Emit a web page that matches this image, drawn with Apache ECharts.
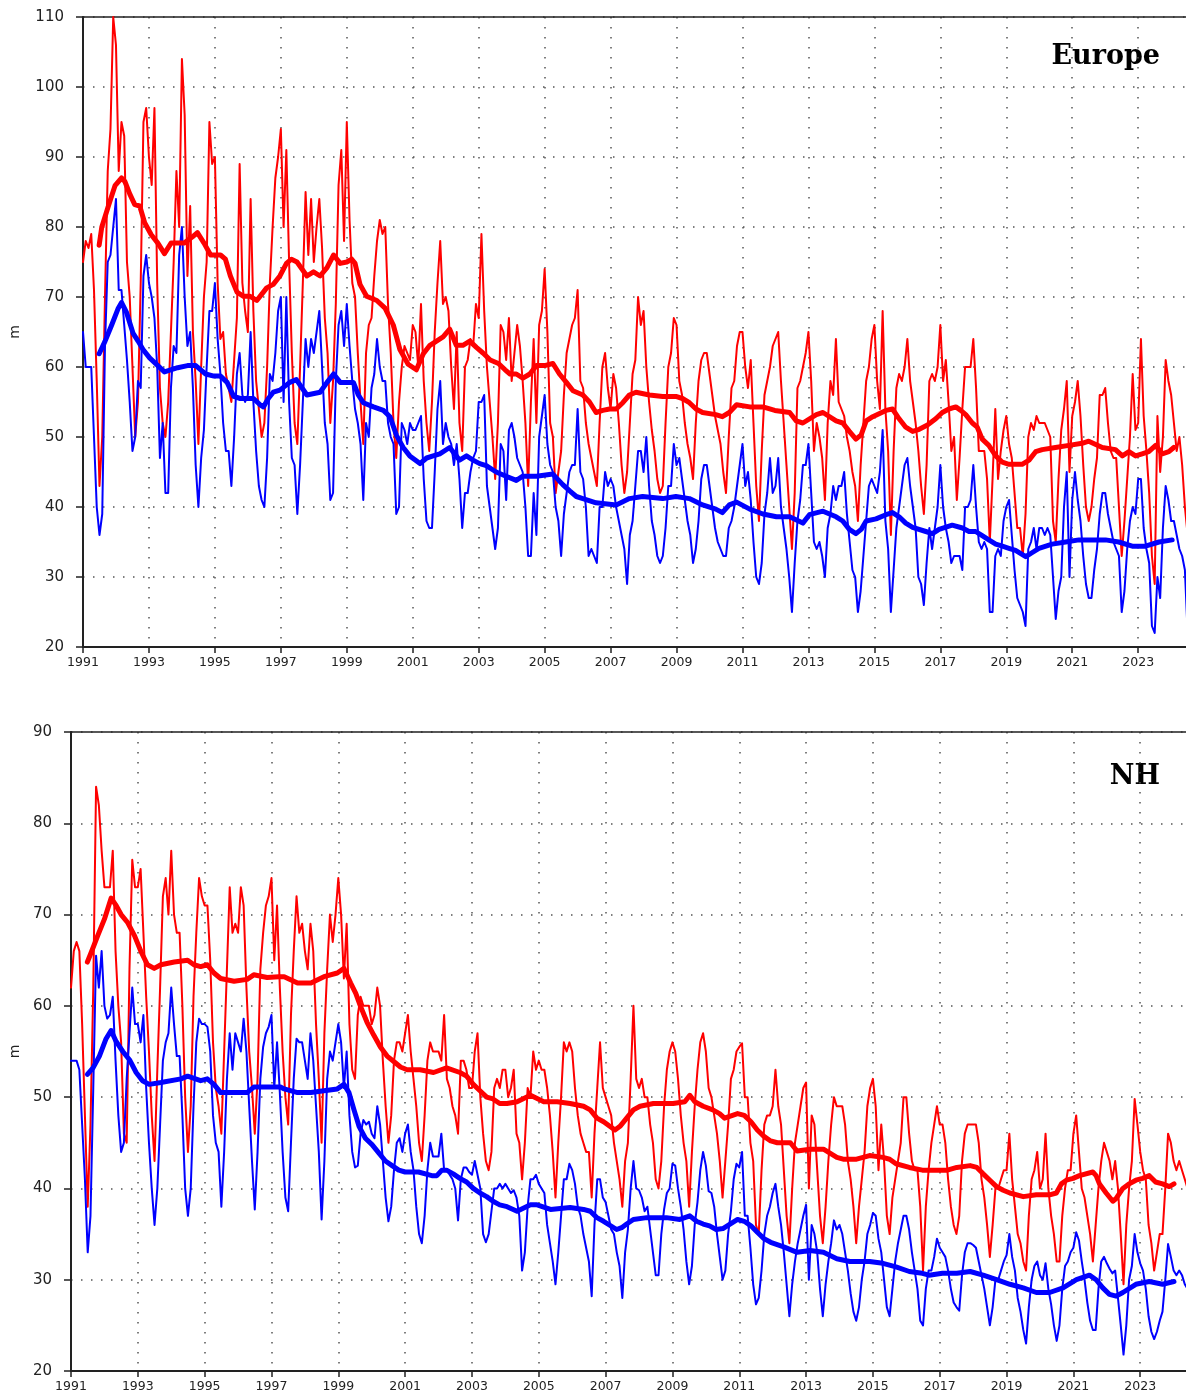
<!DOCTYPE html>
<html>
<head>
<meta charset="utf-8">
<script src="https://cdn.jsdelivr.net/npm/echarts@6/dist/echarts.min.js"></script>
<style>html,body{margin:0;padding:0;background:#fff}#c{width:1186px;height:1394px}</style>
</head>
<body>
<div id="c"></div>
<script>
// ---- Data (monthly values from Jan 1991) ----
const startYear = 1991;
const xTickYears = [1991,1993,1995,1997,1999,2001,2003,2005,2007,2009,2011,2013,2015,2017,2019,2021,2023];
const eurYTicks = [20,30,40,50,60,70,80,90,100,110];
const nhYTicks = [20,30,40,50,60,70,80,90];

const eurRed = [
75,78,77,79,71,58,43,50,70,88,94,110,
106,88,95,93,75,70,60,50,55,72,95,97,
90,86,97,72,57,52,50,55,65,75,88,80,
104,96,73,83,65,58,49,60,70,75,95,89,
90,72,64,65,59,57,55,61,67,89,72,68,
65,84,68,58,54,50,52,60,72,80,87,90,
94,80,91,75,62,52,49,60,72,85,76,84,
75,80,84,77,67,62,52,58,69,86,91,78,
95,81,72,70,62,55,49,62,66,67,73,78,
81,79,80,69,62,52,47,55,60,63,62,61,
66,65,60,69,58,52,48,55,65,72,78,69,
70,68,60,54,65,52,48,60,61,64,63,69,
67,79,68,60,55,50,44,52,66,65,61,67,
58,62,66,63,58,52,43,55,64,52,66,68,
74,65,52,50,42,45,48,56,62,64,66,67,
71,58,57,52,49,47,45,43,52,60,62,57,
54,59,57,52,46,42,45,52,59,61,70,66,
68,60,55,51,48,44,42,43,52,60,62,67,
66,58,56,52,49,47,44,52,58,61,62,62,
59,56,53,51,49,45,42,50,57,58,63,65,
65,60,57,61,52,43,38,48,56,58,60,63,
64,65,58,52,46,40,34,42,57,58,60,62,
65,58,48,52,50,47,41,52,58,56,64,55,
54,53,50,48,45,43,38,46,52,58,60,64,
66,58,54,68,54,48,36,48,57,59,58,60,
64,58,55,52,48,43,39,46,58,59,58,60,
66,58,61,55,48,50,41,47,54,60,60,60,
64,57,48,48,48,44,35,44,54,44,48,51,
53,49,47,42,37,37,33,39,50,52,51,53,
52,52,52,51,50,38,35,44,51,54,58,45,
53,55,58,53,46,40,38,40,44,47,56,56,
57,52,48,47,47,40,33,38,44,50,59,51,
52,64,53,48,42,33,29,53,45,50,61,58,
56,52,48,50,46,40,36
];
const eurBlue = [
65,60,60,60,50,40,36,39,63,75,76,80,
84,71,71,66,61,55,48,50,58,57,73,76,
72,70,67,60,47,52,42,42,57,63,62,76,
80,70,63,65,57,46,40,47,51,60,68,68,
72,64,59,52,48,48,43,50,59,62,56,55,
56,65,55,48,43,41,40,47,59,58,62,68,
70,55,70,55,47,46,39,46,55,64,60,64,
62,65,68,60,52,49,41,42,58,66,68,63,
69,63,58,54,52,49,41,52,50,57,59,64,
60,58,58,52,50,49,39,40,52,51,49,52,
51,51,52,53,44,38,37,37,45,54,58,49,
52,50,49,46,49,44,37,42,42,45,47,48,
55,55,56,43,40,37,34,37,49,48,41,51,
52,50,47,46,45,40,33,33,42,36,50,53,
56,49,46,45,40,38,33,39,42,45,46,46,
54,45,44,40,33,34,33,32,40,40,45,43,
44,43,40,38,36,34,29,36,38,43,48,48,
45,50,43,38,36,33,32,33,37,43,43,49,
46,47,44,41,38,36,32,34,38,44,46,46,
43,40,37,35,34,33,33,37,38,40,43,46,
49,43,45,41,35,30,29,32,39,42,47,42,
43,47,40,37,34,30,25,32,38,41,46,46,
49,42,35,34,35,33,30,37,39,43,41,43,
43,45,39,35,31,30,25,28,33,38,43,44,
43,42,45,51,38,34,25,31,37,40,43,46,
47,43,40,37,30,29,26,32,37,34,37,40,
46,40,37,35,32,33,33,33,31,40,40,41,
46,40,35,34,35,34,25,25,33,34,33,38,
40,41,36,31,27,26,25,23,34,35,37,34,
37,37,36,37,36,30,24,28,30,40,45,30,
41,45,41,38,33,29,27,27,31,34,39,42,
42,39,37,35,34,33,25,28,34,38,40,39,
44,44,37,34,32,23,22,30,27,37,43,41,
38,38,36,34,33,31,22
];
const nhRed = [
62,66,67,66,58,48,38,47,62,84,82,77,
73,73,73,77,66,60,56,46,45,64,76,73,
73,75,68,61,55,48,43,53,62,72,74,70,
77,70,68,68,60,50,44,49,61,68,74,72,
71,71,65,56,51,49,46,55,64,73,68,69,
68,73,71,62,55,51,46,52,64,68,71,72,
74,65,71,62,55,50,47,59,66,72,68,69,
66,64,69,66,58,52,45,57,64,70,67,70,
74,70,63,69,58,53,52,59,61,60,60,60,
58,59,62,60,54,49,45,48,54,56,56,55,
57,59,55,52,49,45,43,48,54,56,55,55,
55,54,59,52,51,49,48,46,54,54,53,51,
51,55,57,50,46,43,42,44,51,52,51,53,
53,50,51,53,46,45,41,45,51,50,55,53,
54,53,53,51,48,44,39,45,50,56,55,56,
55,51,48,46,45,44,44,39,46,51,56,51,
50,49,48,45,43,41,38,43,45,52,60,52,
51,52,50,50,47,45,41,40,43,49,53,55,
56,55,52,48,45,43,38,44,49,53,56,57,
55,51,50,48,46,43,39,43,47,52,53,55,
55.5,55.9,50,50,45,43,36,35,42,47,48,48,
49,53,49,47,42,37,34,40,45,47,49,51,
51.6,40,48,47,42,37,34,38,43,47,50,49,
49,49,47,43,41,38,34,38,41,44,49,51,
52,49,42,47,43,37,35,39,41,43,45,50,
50,46,43,42,42,38,31,38,42,45,47,49,
47,47,45,41,38,36,35,37,43,46,47,47,
47,47,45,41,39,36,32.5,36,40,40,41,42,
42,46,41,38,35,34,32,31,37,41,42,44,
40,41,46,40,37,35,32,32,37,40,42,42,
46,48,44,40,39,37,35,32,36,40,43,45,
44,43,41,43,40,35,29.5,36,40,43,49.8,47,
44,42,41,36,34,31,33,35,35,40,46,45,
43,42,43,42,41,40
];
const nhBlue = [
54,54,54,53,47,41,33,37,51,65.5,62,66,
60,58.6,59,61,54,48,44,45,52,57,62,58,
58,56,59,51,45,40,36,40,47,54,56,57,
62,58,54.5,54.5,48,40,37,40,49,56,58.6,58,
58,57.7,55,48,45,44,38,44,52,57,53,57,
56,55,58.6,55,49,43,37.7,44,52,55.5,57,57.7,
59,51,56,50.5,44,39,37.5,45,52,56.4,56,56,
54,52,57,54,49,44,36.6,43,52,55,54,56,
58,56,51,55,48,44,42.3,42.5,46,47.5,47,47.3,
46,45.5,49,47,43,39,36.4,38,42,45,45.5,44,
46,47,44,42,38,35,34,37,42,45,43.5,43.5,
43.5,46,42,42,41.5,41,40,36.5,41,42.3,42.3,41.8,
41.5,43,41.5,40,35,34.1,35,37.5,40,40,40.5,40,
40.5,40,39.5,39.8,39,37,31,33,38,41,41,41.5,
40.5,40,39.5,36,34,32,29.5,33,37,41,41,42.7,
42,40.5,38,37,35,33.5,32,28.2,36,41,41,39,
38.5,37,35.5,35,33,31.5,28,33,35.5,40,43,40,
39.8,39,37.5,38,35.5,33,30.5,30.5,35,37.7,39.5,40,
42.7,42.5,40,38,35.5,32,29.5,31.5,36,38.5,42,44,
42.5,39.7,39.5,38,35,32.5,30,31,35,37.5,41,42.7,
42.3,44,37,37,33.5,29.5,27.3,28,31,35,37,38,
39.5,40.5,38,36,33,29.5,26,29.5,32,34,35.5,37,
38.2,30,36,35,33,29,26,29.5,32,34,36.5,35.5,
36,35,33,31,28.5,26.5,25.5,27,30,32,35,36,
37.3,37,34.5,33,30,27,26,29,32,34,35.5,37,
37,35.5,33,31,29,25.5,25,29,31,31,32.5,34.5,
33.5,33,32.5,31,29,27.5,27,26.6,30.5,33,34,34,
33.8,33.5,32,30.5,29,27,25,27,30,30,31,32,
32.7,35,32.5,31,28,26.5,24.5,23,27,30,31.5,32,
30.5,30,31.8,29,27.3,25,23.3,25,29,31.5,32,33,
33.5,35.2,34.3,32,30,27.5,25.5,24.5,24.5,29,32,32.5,
31.8,31.2,30.7,31,28,25,21.8,25,30,31.5,35,33,
31.8,31,29,26,24.3,23.5,24.3,25.5,26.5,30,33.9,32.5,
31,30.5,31,30.5,29.5,29
];

// 12-month running means, read as [year, value]
const eurRedMean = [
[1991.49,77.4],[1991.57,80],[1991.77,83],[1991.97,85.9],[1992.17,87],[1992.27,86.5],[1992.42,84.7],[1992.57,83.2],[1992.72,83],[1992.87,80.6],
[1993.07,78.9],[1993.27,77.7],[1993.47,76.2],[1993.67,77.7],[1993.87,77.7],[1994.07,77.7],[1994.32,78.6],[1994.47,79.2],[1994.67,77.7],[1994.87,76],
[1995.17,76],[1995.32,75.4],[1995.47,73],[1995.67,70.7],[1995.87,70.1],[1996.07,70.1],[1996.27,69.5],[1996.47,70.7],[1996.57,71.3],[1996.77,71.8],
[1996.97,73],[1997.17,74.8],[1997.32,75.4],[1997.49,75],[1997.79,73],[1997.99,73.6],[1998.19,73],[1998.4,74.2],[1998.6,76],[1998.8,74.8],
[1999.0,75],[1999.15,75.4],[1999.25,74.8],[1999.4,71.8],[1999.6,70.1],[1999.91,69.5],[2000.16,68.4],[2000.41,66],[2000.61,62.5],[2000.86,60.4],
[2001.11,59.6],[2001.32,61.9],[2001.52,63.1],[2001.72,63.7],[2001.92,64.3],[2002.12,65.4],[2002.32,63.1],[2002.52,63.1],[2002.73,63.7],[2002.93,62.8],
[2003.13,62],[2003.35,61],[2003.6,60.5],[2003.8,59.6],[2003.95,59],[2004.14,59],[2004.34,58.4],[2004.55,59],[2004.75,60.2],[2005.0,60.2],
[2005.25,60.5],[2005.45,59],[2005.66,57.8],[2005.86,56.6],[2006.16,56],[2006.36,55],[2006.56,53.5],[2006.76,53.8],[2006.97,54],[2007.17,54],
[2007.37,54.9],[2007.57,56],[2007.77,56.4],[2008.18,56],[2008.58,55.8],[2008.98,55.8],[2009.18,55.5],[2009.39,54.9],[2009.59,54],[2009.79,53.5],
[2010.19,53.2],[2010.39,52.9],[2010.6,53.5],[2010.82,54.6],[2011.22,54.3],[2011.62,54.3],[2011.98,53.8],[2012.43,53.5],[2012.63,52.3],[2012.83,52],
[2013.24,53.2],[2013.44,53.5],[2013.84,52.3],[2014.04,52],[2014.24,50.8],[2014.44,49.7],[2014.6,50.3],[2014.75,52.3],[2014.95,52.9],[2015.35,53.8],
[2015.55,54],[2015.75,52.6],[2015.95,51.4],[2016.16,50.8],[2016.36,51.1],[2016.61,51.7],[2016.86,52.6],[2017.06,53.5],[2017.26,54],[2017.47,54.3],
[2017.62,53.8],[2017.77,53.2],[2017.97,52],[2018.12,51.4],[2018.27,49.7],[2018.47,48.8],[2018.68,47.3],[2018.88,46.4],[2019.08,46.1],[2019.48,46.1],
[2019.69,46.7],[2019.89,47.9],[2020.09,48.2],[2020.49,48.5],[2020.9,48.8],[2021.3,49.1],[2021.5,49.4],[2021.91,48.5],[2022.31,48.2],[2022.52,47.3],
[2022.72,47.9],[2022.92,47.3],[2023.12,47.6],[2023.32,47.9],[2023.53,48.8],[2023.73,47.6],[2023.93,47.9],[2024.08,48.5]
];
const eurBlueMean = [
[1991.49,61.9],[1991.67,63.7],[1991.87,66],[1992.07,68.4],[1992.17,69.2],[1992.32,67.8],[1992.52,64.8],[1992.67,63.7],[1992.82,62.5],[1993.02,61.3],
[1993.27,60.2],[1993.47,59.3],[1993.87,59.9],[1994.17,60.2],[1994.42,60.2],[1994.57,59.6],[1994.72,59],[1994.97,58.7],[1995.17,58.7],[1995.37,57.8],
[1995.57,55.8],[1995.77,55.5],[1996.17,55.5],[1996.37,54.6],[1996.47,54.3],[1996.62,55.5],[1996.77,56.4],[1996.97,56.7],[1997.27,57.8],[1997.47,58.2],
[1997.79,56],[1998.19,56.4],[1998.4,57.8],[1998.6,59],[1998.8,57.8],[1999.2,57.8],[1999.35,56],[1999.5,54.9],[1999.81,54.3],[2000.11,53.8],
[2000.31,52.9],[2000.51,50.2],[2000.71,48.5],[2000.91,47.3],[2001.22,46.2],[2001.42,47],[2001.62,47.3],[2001.82,47.6],[2002.12,48.5],[2002.42,46.7],
[2002.63,47.3],[2002.83,46.7],[2003.03,46.2],[2003.23,45.9],[2003.53,45],[2003.83,44.4],[2004.14,43.8],[2004.34,44.4],[2004.75,44.4],[2005.25,44.7],
[2005.55,43.2],[2005.76,42.3],[2005.96,41.5],[2006.16,41.2],[2006.56,40.6],[2007.17,40.3],[2007.57,41.2],[2007.97,41.5],[2008.58,41.2],[2008.98,41.5],
[2009.39,41.2],[2009.79,40.3],[2010.19,39.7],[2010.39,39.2],[2010.6,40.3],[2010.82,40.7],[2011.22,39.7],[2011.62,39],[2012.03,38.6],[2012.43,38.6],
[2012.83,37.7],[2013.03,38.9],[2013.44,39.4],[2013.84,38.6],[2014.04,38],[2014.24,36.8],[2014.44,36.2],[2014.6,36.8],[2014.75,38],[2015.05,38.3],
[2015.35,38.9],[2015.55,39.2],[2015.75,38.6],[2015.95,37.7],[2016.16,37.1],[2016.56,36.5],[2016.76,36.2],[2016.96,36.8],[2017.36,37.4],[2017.67,37],
[2017.87,36.5],[2018.07,36.5],[2018.27,35.9],[2018.47,35.3],[2018.68,34.7],[2018.88,34.4],[2019.08,34.1],[2019.28,33.8],[2019.59,32.9],[2019.79,33.5],
[2019.99,34.1],[2020.39,34.7],[2020.8,35],[2021.2,35.3],[2021.61,35.3],[2022.01,35.3],[2022.41,35],[2022.82,34.4],[2023.22,34.4],[2023.63,35],[2024.03,35.3]
];
const nhRedMean = [
[1991.49,64.8],[1991.61,65.9],[1991.8,67.7],[1992.0,69.5],[1992.2,71.8],[1992.35,71],[1992.5,70],[1992.7,69.1],[1992.9,67.7],[1993.1,65.9],
[1993.29,64.5],[1993.49,64.1],[1993.69,64.5],[1994.09,64.8],[1994.49,65],[1994.68,64.5],[1994.88,64.3],[1995.08,64.5],[1995.28,63.6],[1995.48,63],
[1995.88,62.7],[1996.27,62.9],[1996.47,63.4],[1996.87,63.1],[1997.22,63.2],[1997.38,63.2],[1997.78,62.5],[1998.18,62.5],[1998.57,63.2],[1998.97,63.6],
[1999.17,64.1],[1999.37,62.5],[1999.52,61.4],[1999.66,60],[1999.86,58.2],[2000.06,56.8],[2000.26,55.5],[2000.46,54.5],[2000.66,53.9],[2000.86,53.3],
[2001.06,53],[2001.45,53],[2001.85,52.7],[2002.24,53.2],[2002.64,52.7],[2002.84,52.3],[2003.04,51.4],[2003.24,50.7],[2003.44,50],[2003.63,49.8],
[2003.83,49.3],[2004.05,49.3],[2004.35,49.5],[2004.75,50.2],[2005.15,49.5],[2005.55,49.5],[2005.94,49.3],[2006.34,49],[2006.54,48.6],[2006.74,47.7],
[2006.94,47.3],[2007.28,46.4],[2007.43,46.8],[2007.63,47.7],[2007.83,48.6],[2008.03,49],[2008.43,49.3],[2009.02,49.3],[2009.37,49.5],[2009.52,50.2],
[2009.67,49.5],[2009.92,49],[2010.21,48.6],[2010.41,48.2],[2010.56,47.7],[2010.95,48.2],[2011.15,48],[2011.35,47.3],[2011.54,46.4],[2011.74,45.7],
[2011.94,45.2],[2012.14,45],[2012.53,45],[2012.73,44.1],[2013.12,44.3],[2013.52,44.3],[2013.92,43.4],[2014.11,43.2],[2014.51,43.2],[2014.9,43.6],
[2015.3,43.4],[2015.5,43.2],[2015.69,42.7],[2016.09,42.3],[2016.48,42],[2016.88,42],[2017.23,42],[2017.51,42.3],[2017.91,42.5],[2018.11,42.3],
[2018.3,41.6],[2018.5,40.9],[2018.7,40.2],[2018.9,39.8],[2019.1,39.5],[2019.5,39.1],[2019.89,39.3],[2020.29,39.3],[2020.49,39.5],[2020.64,40.5],
[2020.79,40.9],[2020.99,41.1],[2021.18,41.4],[2021.58,41.8],[2021.68,41.4],[2021.78,40.5],[2021.98,39.5],[2022.18,38.6],[2022.28,38.9],[2022.48,40],
[2022.67,40.5],[2022.87,40.9],[2023.07,41.1],[2023.27,41.4],[2023.46,40.7],[2023.67,40.5],[2023.87,40.2],[2024.01,40.5]
];
const nhBlueMean = [
[1991.49,52.5],[1991.66,53.2],[1991.85,54.5],[1992.05,56.4],[1992.2,57.3],[1992.35,56.1],[1992.55,55],[1992.75,54.1],[1992.95,52.7],[1993.14,51.8],
[1993.34,51.4],[1993.69,51.6],[1994.29,52],[1994.49,52.3],[1994.88,51.8],[1995.08,52],[1995.28,51.4],[1995.48,50.5],[1995.88,50.5],[1996.27,50.5],
[1996.47,51.1],[1996.87,51.1],[1997.27,51.1],[1997.38,50.9],[1997.78,50.5],[1998.18,50.5],[1998.57,50.7],[1998.97,50.9],[1999.17,51.4],[1999.32,50.5],
[1999.47,48.6],[1999.62,46.8],[1999.81,45.5],[2000.01,44.8],[2000.21,43.9],[2000.41,43],[2000.61,42.5],[2000.81,42],[2001.0,41.8],[2001.4,41.8],
[2001.8,41.4],[2001.95,41.4],[2002.1,42],[2002.24,42],[2002.44,41.6],[2002.64,41.1],[2002.84,40.7],[2003.04,40],[2003.24,39.5],[2003.44,39.1],
[2003.63,38.6],[2003.83,38.2],[2004.05,38],[2004.35,37.5],[2004.75,38.2],[2004.95,38.2],[2005.35,37.7],[2005.94,37.9],[2006.34,37.7],[2006.54,37.5],
[2006.74,36.8],[2006.94,36.4],[2007.33,35.5],[2007.48,35.7],[2007.63,36.1],[2007.83,36.6],[2008.23,36.8],[2008.82,36.8],[2009.22,36.6],[2009.52,37],
[2009.72,36.4],[2009.92,36.1],[2010.11,35.9],[2010.31,35.5],[2010.51,35.6],[2010.95,36.6],[2011.15,36.4],[2011.35,35.9],[2011.54,35.2],[2011.74,34.5],
[2011.94,34.1],[2012.33,33.6],[2012.73,33],[2013.12,33.2],[2013.52,33],[2013.92,32.3],[2014.31,32],[2014.9,32],[2015.3,31.8],[2015.69,31.4],
[2016.09,30.9],[2016.48,30.7],[2016.68,30.5],[2017.08,30.7],[2017.51,30.7],[2017.91,30.9],[2018.3,30.5],[2018.7,30],[2019.1,29.5],[2019.5,29.1],
[2019.89,28.6],[2020.29,28.6],[2020.69,29.1],[2021.09,30],[2021.48,30.5],[2021.68,30],[2021.88,29.1],[2022.08,28.4],[2022.28,28.2],[2022.48,28.6],
[2022.87,29.5],[2023.27,29.8],[2023.67,29.5],[2024.01,29.8]
];

// ---- Build chart ----
const monthly = arr => arr.map((v, i) => [i / 12, v]);            // offset in years from startYear
const pairs = arr => arr.map(p => [p[0] - startYear, p[1]]);

const AX = '#222';
const FONT = 'DejaVu Sans';
const dotted = { color: '#555', width: 1.5, type: [1.5, 8.5] };

function xAxisFor(gridIndex, maxOff) {
  return [{
    type: 'value', gridIndex, min: 0, max: maxOff, interval: 2,
    axisLine: { show: true, onZero: false, lineStyle: { color: AX, width: 1.8 } },
    axisTick: { show: true, inside: false, length: 6, lineStyle: { color: AX, width: 1.5 },
      customValues: xTickYears.map(y => y - startYear) },
    axisLabel: { show: true, color: AX, fontFamily: FONT, fontSize: 12.5, margin: 9,
      customValues: xTickYears.map(y => y - startYear),
      formatter: v => String(Math.round(v) + startYear) },
    splitLine: { show: true, lineStyle: dotted }
  }, {
    type: 'value', gridIndex, min: 0, max: maxOff, position: 'top',
    axisLine: { show: true, onZero: false, lineStyle: { color: AX, width: 1.5 } },
    axisTick: { show: false }, axisLabel: { show: false }, splitLine: { show: false }
  }];
}
function yAxisFor(gridIndex, ticks, nameGap) {
  return {
    type: 'value', gridIndex, min: ticks[0], max: ticks[ticks.length - 1], interval: ticks[1] - ticks[0],
    name: 'm', nameLocation: 'middle', nameGap, nameRotate: 90,
    nameTextStyle: { color: AX, fontFamily: FONT, fontSize: 14 },
    axisLine: { show: true, onZero: false, lineStyle: { color: AX, width: 2 } },
    axisTick: { show: true, inside: false, length: 7, lineStyle: { color: AX, width: 1.5 } },
    axisLabel: { show: true, color: AX, fontFamily: FONT, fontSize: 15, margin: 19 },
    splitLine: { show: true, lineStyle: dotted }
  };
}
function line(data, color, width, xi, yi, z) {
  return { type: 'line', data, xAxisIndex: xi, yAxisIndex: yi, showSymbol: false, symbol: 'none',
    silent: true, clip: true, z, lineStyle: { color, width, join: 'round', cap: 'round' }, itemStyle: { color } };
}

const chart = echarts.init(document.getElementById('c'), null, { renderer: 'canvas' });
chart.setOption({
  animation: false,
  backgroundColor: '#fff',
  grid: [
    { left: 81, top: 17, right: 0, height: 630 },
    { left: 69, top: 732, right: 0, height: 639 }
  ],
  xAxis: [...xAxisFor(0, 33.45), ...xAxisFor(1, 33.37)],
  yAxis: [yAxisFor(0, eurYTicks, 61), yAxisFor(1, nhYTicks, 49)],
  graphic: [
    { type: 'text', right: 26, top: 43, style: { text: 'Europe', fill: '#000',
      font: 'bold 27px "DejaVu Serif"' } },
    { type: 'text', right: 26, top: 763, style: { text: 'NH', fill: '#000',
      font: 'bold 27px "DejaVu Serif"' } }
  ],
  series: [
    line(monthly(eurRed), '#ff0000', 2, 0, 0, 2),
    line(monthly(eurBlue), '#0000ff', 2, 0, 0, 2),
    line(pairs(eurRedMean), '#ff0000', 5, 0, 0, 3),
    line(pairs(eurBlueMean), '#0000ff', 5, 0, 0, 3),
    line(monthly(nhRed), '#ff0000', 2, 2, 1, 2),
    line(monthly(nhBlue), '#0000ff', 2, 2, 1, 2),
    line(pairs(nhRedMean), '#ff0000', 5, 2, 1, 3),
    line(pairs(nhBlueMean), '#0000ff', 5, 2, 1, 3)
  ]
});
</script>
</body>
</html>
